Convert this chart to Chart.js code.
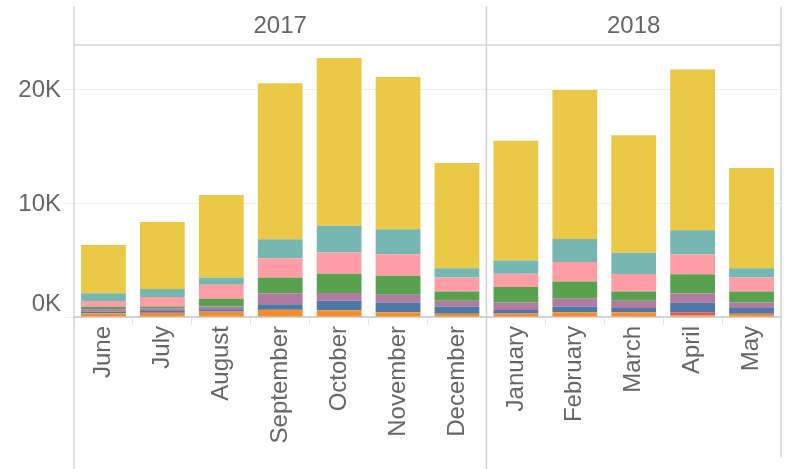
<!DOCTYPE html>
<html>
<head>
<meta charset="utf-8">
<script src="https://cdn.jsdelivr.net/npm/chart.js@4/dist/chart.umd.min.js"></script>
<style>
html, body { margin: 0; padding: 0; background: #fff; }
#wrap { width: 790px; height: 469px; position: relative; }
</style>
</head>
<body>
<div id="wrap"><canvas id="chart"></canvas></div>
<script>
var months = ['June', 'July', 'August', 'September', 'October', 'November', 'December', 'January', 'February', 'March', 'April', 'May'];
var years = ['2017', '2018'];
var monthsPerYear = [7, 5];
var yTicks = [0, 10000, 20000];

// segments, bottom to top
var orange = [300, 350, 460, 610, 590, 410, 260, 290, 410, 410, 160, 260];
var red    = [20, 20, 20, 20, 20, 20, 20, 20, 20, 20, 250, 20];
var blue   = [150, 150, 210, 500, 820, 840, 640, 300, 490, 350, 840, 500];
var purple = [200, 230, 230, 960, 680, 680, 500, 670, 680, 640, 820, 490];
var green  = [230, 180, 680, 1370, 1690, 1670, 820, 1350, 1520, 830, 1690, 960];
var pink   = [500, 820, 1230, 1700, 1870, 1900, 1230, 1170, 1700, 1530, 1730, 1230];
var teal   = [680, 700, 640, 1670, 2340, 2190, 820, 1170, 2020, 1870, 2130, 820];
var yellow = [4240, 5900, 7250, 13700, 14740, 13360, 9240, 10500, 13100, 10320, 14120, 8800];

var txtColor = '#666666';
var lineColor = '#d4d4d4';
var font = "'Liberation Sans', Arial, sans-serif";

const serie = (label, data, color) => {
    return {
        label: label,
        data: data,
        backgroundColor: color,
        borderWidth: 0,
        barPercentage: 0.76,
        categoryPercentage: 1.0
    };
}

const moldura = {
    id: 'moldura',
    beforeDraw: (chart) => {
        const ctx = chart.ctx;
        ctx.save();
        ctx.fillStyle = '#fff';
        ctx.fillRect(0, 0, chart.width, chart.height);
        ctx.restore();
    },
    afterDraw: (chart) => {
        const ctx = chart.ctx;
        const area = chart.chartArea;
        const x = chart.scales.x;
        const y = chart.scales.y;
        ctx.save();
        ctx.strokeStyle = lineColor;
        ctx.lineWidth = 1.5;
        // panes
        let bordas = [area.left];
        let idx = 0;
        monthsPerYear.forEach((n) => {
            idx += n;
            if (idx < months.length) {
                bordas.push((x.getPixelForValue(idx - 1) + x.getPixelForValue(idx)) / 2);
            }
        });
        bordas.forEach((b) => {
            ctx.beginPath();
            ctx.moveTo(b, 6);
            ctx.lineTo(b, chart.height);
            ctx.stroke();
        });
        ctx.beginPath();
        ctx.moveTo(area.right, 6);
        ctx.lineTo(area.right, 458);
        ctx.stroke();
        ctx.beginPath();
        ctx.moveTo(area.left, 45);
        ctx.lineTo(area.right, 45);
        ctx.stroke();
        // year headers
        bordas.push(area.right);
        ctx.fillStyle = txtColor;
        ctx.font = '24px ' + font;
        ctx.textAlign = 'center';
        ctx.textBaseline = 'middle';
        years.forEach((ano, i) => {
            ctx.fillText(ano, (bordas[i] + bordas[i + 1]) / 2, 26);
        });
        // y labels
        ctx.textAlign = 'right';
        yTicks.forEach((v) => {
            let py = Math.min(y.getPixelForValue(v), area.bottom - 14);
            ctx.fillText((v / 1000) + 'K', 61, py + 1);
        });
        ctx.restore();
    }
};

let ctx = document.getElementById('chart').getContext('2d');
let chart = new Chart(ctx, {
    type: 'bar',
    data: {
        labels: months,
        datasets: [
            serie('Orange', orange, '#f28e2b'),
            serie('Red', red, '#e15759'),
            serie('Blue', blue, '#4e79a7'),
            serie('Purple', purple, '#b07aa1'),
            serie('Green', green, '#59a14f'),
            serie('Pink', pink, '#ff9da7'),
            serie('Teal', teal, '#76b7b2'),
            serie('Yellow', yellow, '#ebc946')
        ]
    },
    options: {
        responsive: true,
        maintainAspectRatio: false,
        animation: false,
        layout: { padding: { top: 46, right: 9, left: 0, bottom: 0 } },
        plugins: {
            legend: { display: false },
            tooltip: { enabled: false }
        },
        scales: {
            x: {
                stacked: true,
                afterFit: (scale) => { scale.height = 152; },
                grid: {
                    offset: true,
                    drawOnChartArea: false,
                    tickLength: 8,
                    color: '#e6e6e6'
                },
                border: { display: true, color: lineColor, width: 2 },
                ticks: {
                    autoSkip: false,
                    minRotation: 90,
                    maxRotation: 90,
                    padding: 1,
                    color: txtColor,
                    font: { family: font, size: 24 }
                }
            },
            y: {
                stacked: true,
                min: 0,
                max: 23800,
                afterFit: (scale) => { scale.width = 74; },
                afterBuildTicks: (scale) => {
                    scale.ticks = yTicks.map((v) => ({ value: v }));
                },
                grid: {
                    color: '#efefef',
                    tickLength: 11,
                    drawTicks: true
                },
                border: { display: false },
                ticks: { display: false }
            }
        }
    },
    plugins: [moldura]
});
</script>
</body>
</html>
